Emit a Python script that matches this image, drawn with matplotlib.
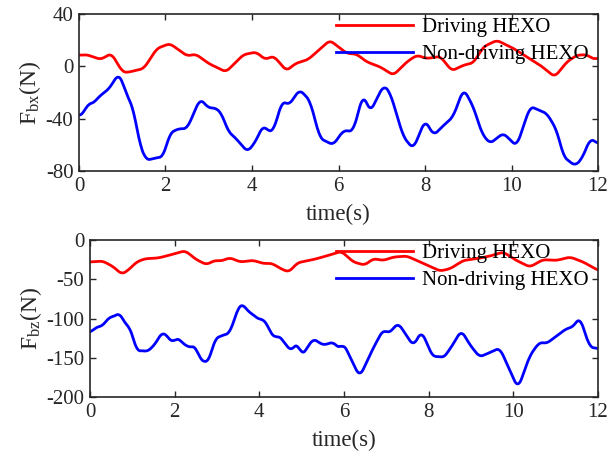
import matplotlib.pyplot as plt
import numpy as np

plt.rcParams['font.family'] = ['Liberation Serif', 'DejaVu Serif']
plt.rcParams['mathtext.fontset'] = 'custom'
plt.rcParams['mathtext.rm'] = 'Liberation Serif'
plt.rcParams['mathtext.it'] = 'Liberation Serif:italic'
plt.rcParams['axes.unicode_minus'] = False

# Fbx, driving
t_dx = [0, 0.18, 0.5, 0.75, 1.0, 1.1, 1.5, 1.8, 2.1, 2.5, 2.7, 3.0, 3.4, 3.8, 4.1, 4.3, 4.5,
        4.8, 5.0, 5.3, 5.8, 6.19, 6.42, 6.65, 6.96, 7.27, 7.58, 7.81, 8.04, 8.35, 8.62, 8.89,
        9.12, 9.35, 9.66, 10.05, 10.35, 10.66, 11.0, 11.28, 11.51, 11.74, 11.9, 12.0]
f_dx = [8.6, 9, 5.3, 10, -4, -4.7, -1.6, 13.7, 17.5, 8, 9.4, 2.2, -4.2, 9, 11, 5.3, 8,
        -3.4, 2.2, 5.3, 20, 10, 9.4, 3.5, -0.3, -6.7, 3.5, 8.6, 6, 7.8, -3.4, 1,
        2.7, 15, 20, 13.7, 7.3, 1, -8, 3.5, 8.6, 9, 5.3, 6.5]
# Fbx, non-driving
t_nx = [0, 0.1, 0.2, 0.3, 0.5, 0.7, 0.9, 1.0, 1.1, 1.25, 1.4, 1.55, 1.8, 1.95, 2.1, 2.3,
        2.5, 2.65, 2.8, 3.0, 3.15, 3.3, 3.45, 3.6, 3.9, 4.1, 4.25, 4.4, 4.5, 4.7, 4.85,
        5.1, 5.34, 5.57, 5.88, 6.11, 6.34, 6.57, 6.73, 7.04, 7.19, 7.5, 7.73, 8.0, 8.2,
        8.43, 8.65, 8.89, 9.12, 9.31, 9.5, 9.81, 10.12, 10.43, 10.82, 11.05, 11.2, 11.47,
        11.63, 11.82, 12.0]
f_nx = [-37.4, -36.6, -28, -29, -22, -17, -6, -10.5, -22, -31, -59, -71.8, -69.8, -69, -51, -47.6,
        -47.6, -36, -24.6, -32, -31.5, -36, -50, -54, -65.4, -56.5, -45, -50, -49, -26, -29.7,
        -17.7, -26, -55, -60, -49, -49.6, -21, -35, -14.4, -19.6, -54, -63, -41, -52.7,
        -45, -38.6, -17, -31, -51, -59, -51, -61, -30.5, -36, -49, -69, -76,
        -70.5, -55, -59]

# Fbz, driving
t_dz = [0, 0.3, 0.55, 0.75, 0.9, 1.1, 1.3, 1.6, 1.8, 2.0, 2.25, 2.5, 2.75, 2.95, 3.1, 3.3,
        3.55, 3.85, 4.1, 4.3, 4.5, 4.7, 4.9, 5.1, 5.27, 5.58, 5.94, 6.22, 6.49, 6.69, 6.93,
        7.17, 7.48, 7.8, 8.27, 8.51, 8.82, 9.14, 9.45, 9.76, 10.07, 10.39, 10.7, 11.02,
        11.34, 11.65, 12.0]
f_dz = [-28, -26.8, -34, -43.7, -38.6, -28, -23.8, -23, -20.4, -17.4, -13.6, -24.6, -31.4, -25.9, -26.8, -22.5,
        -28, -25.9, -30, -29.7, -36.5, -40.8, -29, -26.8, -25, -20.4, -14.4, -28, -32, -23.8, -26,
        -21.7, -20.4, -28, -39.5, -36.5, -26, -23.8, -20.4, -15.3, -26, -34.4, -25, -26,
        -21.7, -28, -38.6]
# Fbz, non-driving
t_nz = [0, 0.15, 0.3, 0.45, 0.55, 0.7, 0.85, 0.95, 1.1, 1.25, 1.35, 1.55, 1.7, 1.85, 1.95,
        2.05, 2.2, 2.35, 2.5, 2.6, 2.8, 2.95, 3.15, 3.3, 3.5, 3.6, 3.75, 3.85, 4.0, 4.1,
        4.35, 4.45, 4.55, 4.75, 4.9, 5.0, 5.27, 5.51, 5.75, 5.9, 5.98, 6.37, 6.69, 6.93,
        7.05, 7.28, 7.64, 7.83, 8.11, 8.22, 8.34, 8.54, 8.77, 8.97, 9.2, 9.44, 9.68, 10.11,
        10.39, 10.62, 10.78, 11.25, 11.41, 11.57, 11.8, 12.0]
f_nz = [-118, -110.8, -109.6, -98, -98, -92.6, -108.7, -110.8, -141.8, -140.6, -142.7, -132, -117, -123.6, -132,
        -123.6, -132, -137, -135, -153, -156, -125.7, -121, -119, -86, -81, -92, -94.7, -102, -100,
        -125.7, -121, -127.8, -141.8, -130, -148, -125.7, -134, -130, -139.3, -130.8, -174.5, -137.6, -113.8,
        -119.3, -105.7, -135, -116, -150.3, -147, -151, -136, -115, -133.3, -149, -143.5, -137.6, -189.4,
        -147, -130, -132, -113, -110.8, -98, -136.3, -138.4]

fig = plt.figure(figsize=(6.09, 4.55), dpi=100)
ax1 = fig.add_axes([0.1297, 0.624, 0.8523, 0.345])
ax2 = fig.add_axes([0.1478, 0.1275, 0.8342, 0.345])


def smooth(t, f):
    tt = np.linspace(t[0], t[-1], 600)
    ff = np.interp(tt, t, f)
    k = np.ones(9) / 9
    pad = np.pad(ff, 4, mode='edge')
    return tt, np.convolve(pad, k, mode='valid')


def style(ax, ylim, yticks, ylabel):
    ax.set_xlim(0, 12)
    ax.set_ylim(*ylim)
    ax.set_xticks([0, 2, 4, 6, 8, 10, 12])
    ax.set_yticks(yticks)
    ax.tick_params(direction='in', top=True, right=True, labelsize=15, length=4,
                   width=1, colors='#262626', labelcolor='#262626', pad=4)
    for s in ax.spines.values():
        s.set_linewidth(1.2)
        s.set_color('#262626')
    ax.set_xlabel('time(s)', fontsize=16.5, labelpad=6, color='#262626')
    ax.set_ylabel(ylabel, fontsize=17, labelpad=2, color='#262626')
    ax.legend(loc='upper right', frameon=False, fontsize=15, handlelength=3.7,
              borderaxespad=0.0, labelspacing=0.35, handletextpad=0.45,
              bbox_to_anchor=(0.998, 1.03))


ax1.plot(*smooth(t_dx, f_dx), color='#ff0000', lw=2, label='Driving HEXO')
ax1.plot(*smooth(t_nx, f_nx), color='#0000ff', lw=2, label='Non-driving HEXO')
style(ax1, (-80, 40), [-80, -40, 0, 40], r'F$_{\mathrm{bx}}$(N)')

ax2.plot(*smooth(t_dz, f_dz), color='#ff0000', lw=2, label='Driving HEXO')
ax2.plot(*smooth(t_nz, f_nz), color='#0000ff', lw=2, label='Non-driving HEXO')
style(ax2, (-200, 0), [-200, -150, -100, -50, 0], r'F$_{\mathrm{bz}}$(N)')

fig.savefig('out.png', dpi=100)
